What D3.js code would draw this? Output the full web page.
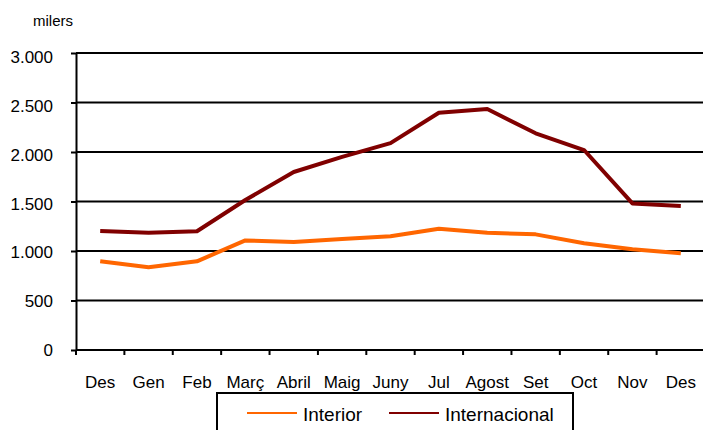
<!DOCTYPE html>
<html>
<head>
<meta charset="utf-8">
<script src="https://cdn.jsdelivr.net/npm/d3@7"></script>
<style>
  body { margin: 0; background: #fff; }
  svg text { font-family: "Liberation Sans", Arial, sans-serif; fill: #000; }
</style>
</head>
<body>
<div id="chart"></div>
<script>
var months = ['Des', 'Gen', 'Feb', 'Març', 'Abril', 'Maig', 'Juny', 'Jul', 'Agost', 'Set', 'Oct', 'Nov', 'Des'];
var interior = [896, 835, 896, 1107, 1091, 1121, 1150, 1225, 1185, 1168, 1078, 1017, 977];
var internacional = [1202, 1185, 1200, 1515, 1798, 1950, 2090, 2397, 2434, 2189, 2020, 1481, 1455];
var yTicks = [0, 500, 1000, 1500, 2000, 2500, 3000];

var series = [
  { name: 'Interior', values: interior, color: '#ff6600' },
  { name: 'Internacional', values: internacional, color: '#800000' }
];

var W = 703, H = 430;
var plotLeft = 76, plotRight = 705, plotTop = 53, plotBottom = 350;

var svg = d3.select('#chart').append('svg')
    .attr('width', W)
    .attr('height', H);

var x = d3.scaleBand()
    .domain(d3.range(months.length))
    .range([plotLeft, plotRight]);

var y = d3.scaleLinear()
    .domain([0, 3000])
    .range([plotBottom, plotTop]);

// tick labels sit on a slightly tighter spacing than the gridlines
var yLabel = d3.scaleLinear()
    .domain([0, 3000])
    .range([plotBottom, plotTop + 4]);

var fmt = function(v) { return d3.format(',')(v).replace(/,/g, '.'); };

// gridlines
svg.append('g')
  .selectAll('line')
  .data(yTicks.slice(1))
  .enter().append('line')
    .attr('x1', plotLeft)
    .attr('x2', W)
    .attr('y1', (d) => y(d))
    .attr('y2', (d) => y(d))
    .attr('stroke', '#000')
    .attr('stroke-width', 2);

// y axis
var yAxis = svg.append('g')
    .attr('transform', 'translate(' + plotLeft + ',0)')
    .call(d3.axisLeft(y).tickValues(yTicks).tickFormat('').tickSize(5).tickSizeOuter(0));
yAxis.select('.domain').attr('stroke', '#000').attr('stroke-width', 2);
yAxis.selectAll('.tick line').attr('stroke', '#000').attr('stroke-width', 2);

svg.append('g')
  .selectAll('text')
  .data(yTicks)
  .enter().append('text')
    .attr('x', plotLeft - 23)
    .attr('y', (d) => yLabel(d))
    .attr('dy', '0.36em')
    .attr('text-anchor', 'end')
    .attr('font-size', '17px')
    .text(fmt);

// x axis with ticks between categories
var xAxis = svg.append('g')
    .attr('transform', 'translate(0,' + plotBottom + ')');
xAxis.append('line')
    .attr('x1', plotLeft)
    .attr('x2', W)
    .attr('stroke', '#000')
    .attr('stroke-width', 2);
xAxis.selectAll('line.tk')
  .data(d3.range(months.length + 1))
  .enter().append('line')
    .attr('class', 'tk')
    .attr('x1', (i) => plotLeft + i * x.step())
    .attr('x2', (i) => plotLeft + i * x.step())
    .attr('y1', 0)
    .attr('y2', 5)
    .attr('stroke', '#000')
    .attr('stroke-width', 2);
xAxis.selectAll('text')
  .data(months)
  .enter().append('text')
    .attr('x', (d, i) => x(i) + x.bandwidth() / 2)
    .attr('y', 38)
    .attr('text-anchor', 'middle')
    .attr('font-size', '17px')
    .text((d) => d);

// lines
var line = d3.line()
    .x((d, i) => x(i) + x.bandwidth() / 2)
    .y((d) => y(d));

svg.append('g')
  .selectAll('path')
  .data(series)
  .enter().append('path')
    .attr('d', (d) => line(d.values))
    .attr('fill', 'none')
    .attr('stroke', (d) => d.color)
    .attr('stroke-width', 4)
    .attr('stroke-linejoin', 'round');

// unit label
svg.append('text')
    .attr('x', 33)
    .attr('y', 26)
    .attr('font-size', '15px')
    .text('milers');

// legend
var legend = svg.append('g');
legend.append('rect')
    .attr('x', 217)
    .attr('y', 393)
    .attr('width', 356)
    .attr('height', 45)
    .attr('fill', '#fff')
    .attr('stroke', '#000')
    .attr('stroke-width', 2);

var legendPos = [247, 389];
var item = legend.selectAll('g.item')
  .data(series)
  .enter().append('g')
    .attr('class', 'item')
    .attr('transform', (d, i) => 'translate(' + legendPos[i] + ',413)');
item.append('line')
    .attr('x1', 0)
    .attr('x2', 50)
    .attr('stroke', (d) => d.color)
    .attr('stroke-width', 2);
item.append('text')
    .attr('x', 56)
    .attr('y', 8)
    .attr('font-size', '19px')
    .text((d) => d.name);
</script>
</body>
</html>
